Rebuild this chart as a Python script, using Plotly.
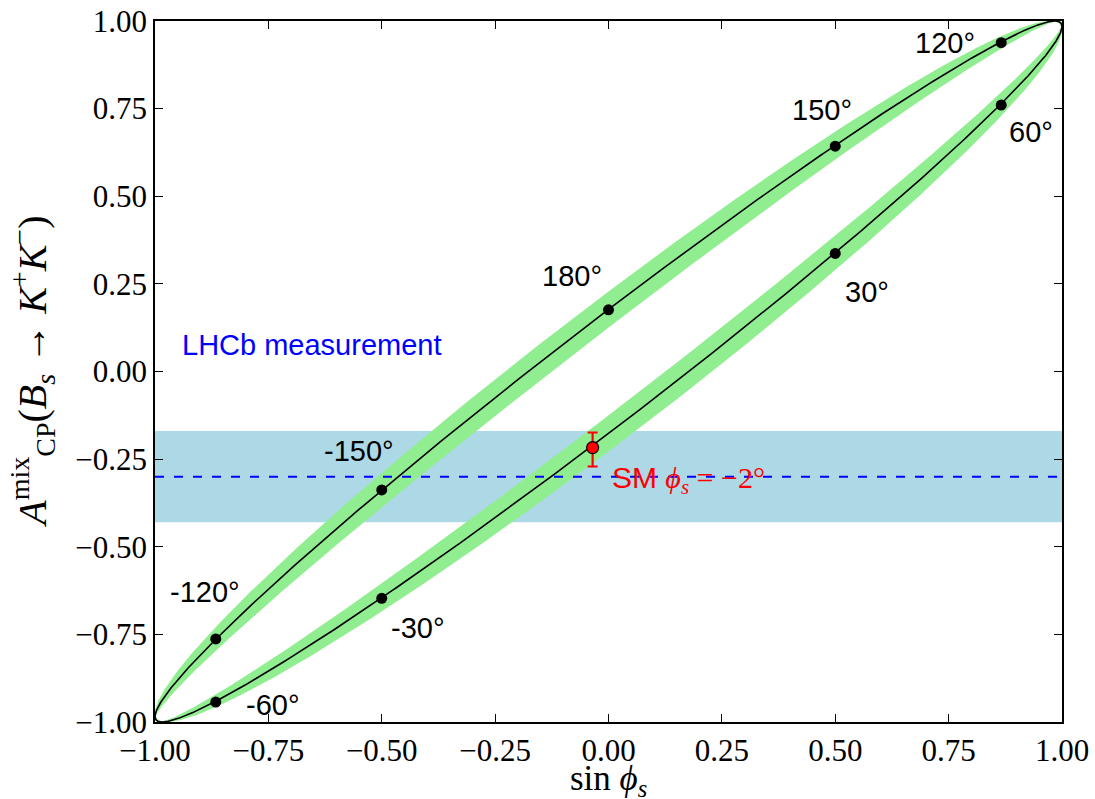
import numpy as np
import plotly.graph_objects as go

# Mixing-induced CP asymmetry versus sin(phi_s): strong-phase offset and its spread (degrees)
phase_offset_deg = -10.2
phase_halfwidth_deg = 3.0

# Marked values of phi_s along the curve
angle_labels = ["30°", "60°", "120°", "150°", "180°", "-150°", "-120°", "-60°", "-30°"]
point_x = [0.5, 0.866, 0.866, 0.5, 0.0, -0.5, -0.866, -0.866, -0.5]
point_y = [0.337, 0.760, 0.938, 0.643, 0.176, -0.338, -0.763, -0.943, -0.647]

# LHCb measurement of the asymmetry (central value and uncertainty)
lhcb_value = -0.30
lhcb_error = 0.13

# Standard Model point phi_s = -2 deg
sm_x = -0.035
sm_y = -0.217
sm_err_plus = 0.043
sm_err_minus = 0.054

# Tick values
tick_vals = [-1.0, -0.75, -0.5, -0.25, 0.0, 0.25, 0.5, 0.75, 1.0]

# Label placement (data coordinates)
label_x = [0.570, 0.932, 0.742, 0.471, -0.080, -0.550, -0.890, -0.740, -0.420]
label_y = [0.227, 0.683, 0.937, 0.746, 0.272, -0.227, -0.629, -0.951, -0.732]

# Parametric curve: x = sin(phi), y = sin(phi + offset)
phi = np.radians(np.linspace(-180.0, 180.0, 1441))
off = np.radians(phase_offset_deg)
hw = np.radians(phase_halfwidth_deg)
cx = np.sin(phi)
cy = np.sin(phi + off)
outer = np.sin(phi + off - hw)
inner = np.sin(phi + off + hw)

band_x = np.concatenate([cx, cx[::-1]])
band_y = np.concatenate([outer, inner[::-1]])

serif = "Liberation Serif"
sans = "Liberation Sans"

fig = go.Figure()

# Uncertainty band of the curve (ring between outer and inner ellipses)
fig.add_trace(go.Scatter(
    x=band_x, y=band_y, mode="lines", fill="toself",
    fillcolor="#90EE90", line=dict(width=0), hoverinfo="skip", showlegend=False,
))

# LHCb central value
fig.add_trace(go.Scatter(
    x=[-1.0, 1.0], y=[lhcb_value, lhcb_value], mode="lines",
    line=dict(color="blue", width=2, dash="9px,10px"), showlegend=False,
))

# Central curve
fig.add_trace(go.Scatter(
    x=cx, y=cy, mode="lines", line=dict(color="black", width=1.6), showlegend=False,
))

# Marked angles
fig.add_trace(go.Scatter(
    x=point_x, y=point_y, mode="markers",
    marker=dict(color="black", size=11), showlegend=False,
))

# Standard Model point with error bar
fig.add_trace(go.Scatter(
    x=[sm_x], y=[sm_y], mode="markers",
    marker=dict(color="red", size=12, line=dict(color="black", width=1.2)),
    error_y=dict(type="data", symmetric=False, array=[sm_err_plus],
                 arrayminus=[sm_err_minus], color="red", thickness=2.2, width=5),
    showlegend=False,
))

annotations = []
for t, lx, ly in zip(angle_labels, label_x, label_y):
    annotations.append(dict(
        x=lx, y=ly, text=t, showarrow=False, xanchor="center", yanchor="middle",
        font=dict(family=sans, size=29, color="black"),
    ))

annotations.append(dict(
    x=-0.945, y=0.0756, text="LHCb measurement", showarrow=False,
    xanchor="left", yanchor="middle", font=dict(family=sans, size=29, color="blue"),
))
annotations.append(dict(
    x=0.003, y=-0.31, showarrow=False, xanchor="left", yanchor="middle",
    text=("<span style='font-family:Liberation Sans'>SM </span>"
          "<i>ϕ<sub>s</sub></i> = −2°"),
    font=dict(family=serif, size=30, color="red"),
))

# Axis titles
annotations.append(dict(
    xref="paper", yref="paper", x=-0.135, y=0.499, textangle=-90,
    xanchor="center", yanchor="middle", showarrow=False,
    text=("<i>A</i><sup>mix</sup><sub>CP</sub>(<i>B<sub>s</sub></i> → "
          "<i>K</i><sup>+</sup><i>K</i><sup>−</sup>)"),
    font=dict(family=serif, size=40, color="black"),
))
annotations.append(dict(
    xref="paper", yref="paper", x=0.5, y=-0.083,
    xanchor="center", yanchor="middle", showarrow=False,
    text="sin <i>ϕ<sub>s</sub></i>",
    font=dict(family=serif, size=35, color="black"),
))

fig.update_layout(
    width=1095, height=799,
    margin=dict(l=155, r=33, t=21, b=77),
    paper_bgcolor="white", plot_bgcolor="white",
    annotations=annotations,
    shapes=[dict(
        type="rect", xref="x", yref="y", x0=-1.0, x1=1.0,
        y0=lhcb_value - lhcb_error, y1=lhcb_value + lhcb_error,
        fillcolor="#ADD8E6", line=dict(width=0), layer="below",
    )],
)

axis_common = dict(
    range=[-1.0, 1.0], tickvals=tick_vals, tickformat=".2f",
    showgrid=False, zeroline=False, automargin=False,
    showline=True, linecolor="black", linewidth=1.5, mirror="allticks",
    ticks="inside", ticklen=8, tickwidth=1, tickcolor="black",
    tickfont=dict(family=serif, size=31, color="black"),
)

fig.update_xaxes(**axis_common)
fig.update_yaxes(**axis_common)

fig.write_html("out.html")
